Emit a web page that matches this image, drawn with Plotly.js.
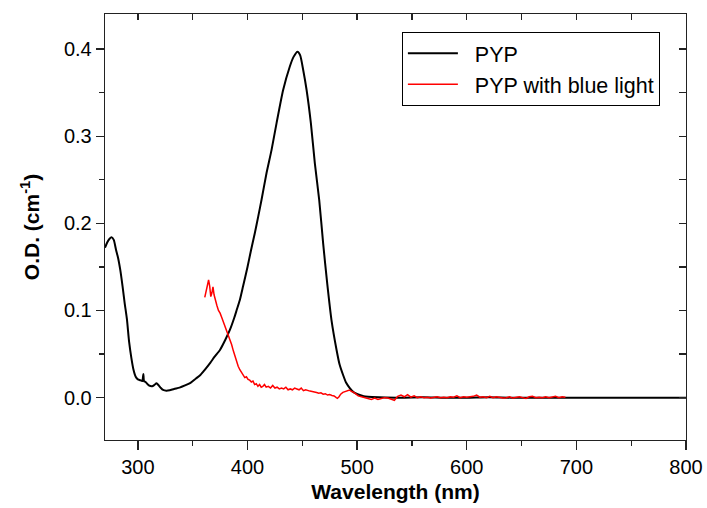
<!DOCTYPE html>
<html>
<head>
<meta charset="utf-8">
<script src="https://cdn.plot.ly/plotly-3.0.1.min.js"></script>
<style>html,body{margin:0;padding:0;background:#fff}#chart{width:707px;height:508px}</style>
</head>
<body>
<div id="chart"></div>
<script>
// PYP (dark state) absorption spectrum
var pypWavelength = [270,272,274,276,278,280,282,284,286,288,290,292,294,296,298,300,302,304,305,305.6,307,310,313,315,317,319,321,323,326,329,333,338,343,348,353,357,361,366,370,375,380,384,388,390,393,396,400,403,406.7,409.8,412.8,417.4,421.9,426.5,432.5,438.6,442,445.6,448,450.8,453.9,457.8,461.4,465.4,469,472.7,476.6,481.2,484,487.2,490,493.3,497,502.4,506,510,520,540,560,580,600,620,640,660,680,700,720,740,760,780,800];
var pypOD = [0.172,0.178,0.182,0.184,0.181,0.170,0.160,0.146,0.128,0.108,0.090,0.064,0.046,0.032,0.024,0.021,0.020,0.019,0.027,0.019,0.018,0.014,0.013,0.0145,0.0165,0.014,0.011,0.0088,0.008,0.0085,0.010,0.0115,0.014,0.017,0.022,0.026,0.032,0.040,0.047,0.055,0.067,0.078,0.092,0.100,0.112,0.128,0.150,0.168,0.189,0.208,0.227,0.258,0.284,0.315,0.353,0.380,0.391,0.397,0.393,0.376,0.353,0.315,0.269,0.227,0.177,0.131,0.089,0.055,0.038,0.026,0.017,0.011,0.006,0.003,0.0015,0.001,0.0005,0.0,0.0005,0.0,0.0,0.0005,0.0,0.0,0.0,0.0,0.0,0.0,0.0,0.0,0.0];

// PYP after blue light illumination
var blueWavelength = [361,362.5,363.5,364.5,365.5,366.5,367.5,368.5,369.5,370.5,372,373.5,375,376.5,378,379.5,381,382.5,384,385.5,387,388.5,390,391.5,393,394.5,396,397.5,399,400.5,402,403.5,405,406.5,408,409.5,411,412.5,414,415.5,417,419,421,423,425,427,429,431,433,435,437,439,441,443,445,447,449,451,453,455,457,459,461,463,465,467,469,471,473,475,477,479,481,482,483.5,485,487,489,491,493,495,497,499,501,504,507,510,513,516,519,522,525,528,531,534,537,540,543,546,549,552,555,558,561,564,567,570,573,576,579,582,585,588,591,594,597,600,603,606,609,612,615,618,621,624,627,630,633,636,639,642,645,648,651,654,657,660,663,666,669,672,675,678,681,684,687,690];
var blueOD = [0.115,0.124,0.133,0.135,0.128,0.116,0.120,0.127,0.118,0.112,0.106,0.100,0.097,0.092,0.087,0.082,0.075,0.070,0.066,0.061,0.054,0.048,0.040,0.036,0.032,0.029,0.026,0.023,0.024,0.021,0.020,0.018,0.019,0.015,0.016,0.013,0.015,0.012,0.013,0.015,0.012,0.013,0.011,0.014,0.011,0.012,0.010,0.011,0.010,0.012,0.009,0.010,0.009,0.011,0.010,0.009,0.011,0.008,0.009,0.008,0.0075,0.007,0.006,0.0058,0.005,0.0055,0.004,0.0045,0.003,0.0035,0.0025,0.002,0.0,-0.0008,0.001,0.004,0.006,0.007,0.0075,0.0088,0.007,0.006,0.004,0.002,0.001,0.0,-0.001,-0.002,-0.0005,-0.002,-0.001,0.0,-0.0005,-0.002,-0.003,0.0015,0.003,0.001,0.0035,0.0005,0.002,0.0,0.001,0.0,0.0005,-0.0005,0.0,0.001,0.0,0.0005,0.0,0.001,0.0005,0.002,0.0,0.001,0.0005,0.001,0.0015,0.003,0.0005,0.001,0.0,0.0015,0.0,0.001,0.0005,-0.0005,0.0,0.001,-0.0005,0.0,0.001,0.0,-0.001,0.001,0.0015,0.0,0.0005,0.0,0.001,0.0,0.0005,0.0015,0.0,0.001,0.0005];

var seriesNames = ['PYP', 'PYP with blue light'];
var xTickVals = [300,400,500,600,700,800];
var xTickText = ['300','400','500','600','700','800'];
var yTickVals = [0.0,0.1,0.2,0.3,0.4];
var yTickText = ['0.0','0.1','0.2','0.3','0.4'];

var FONT = 'Liberation Sans, Arial, sans-serif';
var XR = [270, 800], YR = [-0.0486, 0.4402];
var PAD = '\u00a0\u00a0';

var traces = [
  {x: pypWavelength, y: pypOD, name: PAD + seriesNames[0], type: 'scatter', mode: 'lines',
   line: {color: '#000000', width: 2, shape: 'spline', smoothing: 0.6}},
  {x: blueWavelength, y: blueOD, name: PAD + seriesNames[1], type: 'scatter', mode: 'lines',
   line: {color: '#ff0000', width: 1.5}},
  {x: [], y: [], xaxis: 'x2', yaxis: 'y2', showlegend: false, hoverinfo: 'skip', type: 'scatter'}
];

var axLine = {showline: true, linecolor: '#222', linewidth: 1.3, zeroline: false, showgrid: false};

var layout = {
  width: 707, height: 508,
  margin: {l: 105, r: 21, t: 14, b: 68},
  paper_bgcolor: '#fff', plot_bgcolor: '#fff',
  font: {family: FONT, size: 20, color: '#000'},
  showlegend: true,
  legend: {x: 0.511, y: 0.958, xanchor: 'left', yanchor: 'top',
           bordercolor: '#000', borderwidth: 1, bgcolor: '#fff',
           font: {family: FONT, size: 21.5, color: '#000'},
           itemwidth: 50, tracegroupgap: 0},
  xaxis: Object.assign({}, axLine, {
    range: XR, autorange: false,
    tickmode: 'array', tickvals: xTickVals, ticktext: xTickText,
    ticks: 'outside', ticklen: 9, tickwidth: 1.3, tickcolor: '#222',
    minor: {dtick: 50, tick0: 0, ticks: 'outside', ticklen: 5, tickwidth: 1.3, tickcolor: '#222', showgrid: false},
    tickfont: {family: FONT, size: 20},
    title: {text: '<b>Wavelength (nm)</b>', font: {family: FONT, size: 21}, standoff: 7}
  }),
  yaxis: Object.assign({}, axLine, {
    range: YR, autorange: false,
    tickmode: 'array', tickvals: yTickVals, ticktext: yTickText,
    ticks: 'outside', ticklen: 8, tickwidth: 1.3, tickcolor: '#222',
    minor: {dtick: 0.05, tick0: 0, ticks: 'outside', ticklen: 5, tickwidth: 1.3, tickcolor: '#222', showgrid: false},
    tickfont: {family: FONT, size: 20},
    title: {text: '<b>O.D. (cm<sup>-1</sup>)</b>', font: {family: FONT, size: 21}, standoff: 18}
  }),
  xaxis2: Object.assign({}, axLine, {
    overlaying: 'x', side: 'top', anchor: 'y2',
    range: XR, autorange: false, tick0: 0, dtick: 50,
    ticks: 'inside', ticklen: 6, tickwidth: 1.3, tickcolor: '#222', showticklabels: false
  }),
  yaxis2: Object.assign({}, axLine, {
    overlaying: 'y', side: 'right', anchor: 'x2',
    range: YR, autorange: false, tick0: 0, dtick: 0.05,
    ticks: 'inside', ticklen: 7, tickwidth: 1.3, tickcolor: '#222', showticklabels: false
  })
};

Plotly.newPlot('chart', traces, layout, {staticPlot: true, displayModeBar: false});
</script>
</body>
</html>
